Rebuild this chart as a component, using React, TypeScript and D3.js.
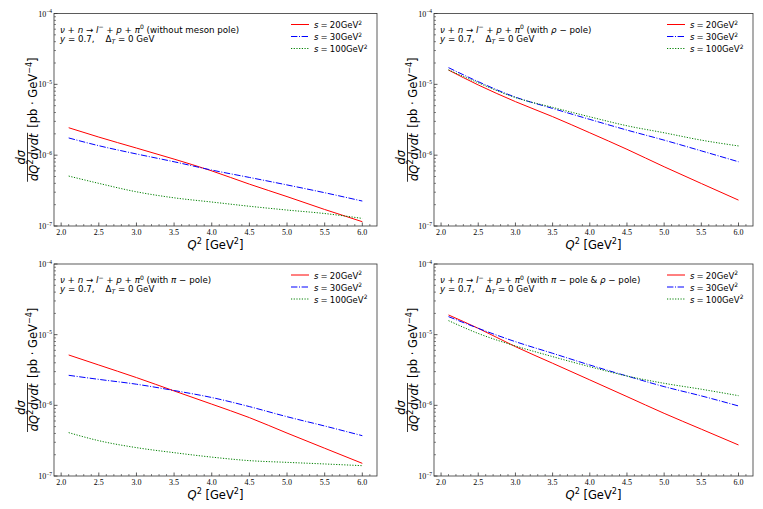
import React from 'react';
import * as d3 from 'd3';

// ---------- data ----------
const Q2 = [2.1, 2.5, 3.0, 3.5, 4.0, 4.5, 5.0, 5.5, 6.0];
const S_VALUES = ['20', '30', '100'];

// panel 1: without meson pole
const NOPOLE_S20 = [2.44e-6, 1.8e-6, 1.26e-6, 8.8e-7, 6.0e-7, 3.9e-7, 2.6e-7, 1.71e-7, 1.15e-7];
const NOPOLE_S30 = [1.75e-6, 1.36e-6, 1.04e-6, 8.07e-7, 6.16e-7, 4.85e-7, 3.8e-7, 2.95e-7, 2.25e-7];
const NOPOLE_S100 = [5.07e-7, 4.0e-7, 3.04e-7, 2.5e-7, 2.18e-7, 1.9e-7, 1.68e-7, 1.5e-7, 1.28e-7];

// panel 2: with rho pole
const RHO_S20 = [1.59e-5, 9.8e-6, 5.7e-6, 3.5e-6, 2.07e-6, 1.21e-6, 6.86e-7, 3.98e-7, 2.32e-7];
const RHO_S30 = [1.72e-5, 1.09e-5, 6.6e-6, 4.57e-6, 3.2e-6, 2.26e-6, 1.63e-6, 1.15e-6, 8.07e-7];
const RHO_S100 = [1.6e-5, 1.05e-5, 6.5e-6, 4.73e-6, 3.48e-6, 2.6e-6, 2.07e-6, 1.63e-6, 1.35e-6];

// panel 3: with pi pole
const PI_S20 = [5.16e-6, 3.72e-6, 2.47e-6, 1.6e-6, 1.04e-6, 6.7e-7, 4.05e-7, 2.47e-7, 1.51e-7];
const PI_S30 = [2.66e-6, 2.33e-6, 1.99e-6, 1.62e-6, 1.29e-6, 9.6e-7, 6.9e-7, 5.1e-7, 3.72e-7];
const PI_S100 = [4.11e-7, 3.16e-7, 2.52e-7, 2.14e-7, 1.85e-7, 1.65e-7, 1.56e-7, 1.48e-7, 1.4e-7];

// panel 4: with pi pole & rho pole
const PIRHO_S20 = [1.9e-5, 1.23e-5, 6.77e-6, 3.94e-6, 2.29e-6, 1.33e-6, 7.7e-7, 4.6e-7, 2.75e-7];
const PIRHO_S30 = [1.8e-5, 1.23e-5, 7.96e-6, 5.45e-6, 3.72e-6, 2.6e-6, 1.84e-6, 1.36e-6, 9.8e-7];
const PIRHO_S100 = [1.58e-5, 1.04e-5, 6.92e-6, 4.89e-6, 3.52e-6, 2.6e-6, 2.05e-6, 1.69e-6, 1.37e-6];

const X_TICKS = [2.0, 2.5, 3.0, 3.5, 4.0, 4.5, 5.0, 5.5, 6.0];
const Y_TICKS = [1e-4, 1e-5, 1e-6, 1e-7];
const Y_TICK_EXP = ['−4', '−5', '−6', '−7'];

// ---------- styling ----------
const COLORS = ['#ff0000', '#0000ff', '#008000'];
const DASHES = [undefined, '6.4,1.6,1,1.6', '1.2,1.5'];
const SANS = 'DejaVu Sans, sans-serif';
const SERIF = 'Liberation Serif, Times New Roman, serif';

type Part = { t: string; i?: boolean; sup?: boolean; sub?: boolean };

function Rich({ x, y, parts, size, anchor = 'start', family = SANS }: any) {
  let offset = 0;
  const spans = parts.map((p: Part, k: number) => {
    const target = p.sup ? -0.4 * size : p.sub ? 0.25 * size : 0;
    const dy = target - offset;
    offset = target;
    return (
      <tspan
        key={k}
        dy={dy}
        fontSize={p.sup || p.sub ? size * 0.7 : size}
        fontStyle={p.i ? 'italic' : 'normal'}
      >
        {p.t}
      </tspan>
    );
  });
  return (
    <text x={x} y={y} fontSize={size} textAnchor={anchor} fontFamily={family} fill="#000" style={{ whiteSpace: 'pre' }}>
      {spans}
    </text>
  );
}

const REACTION: Part[] = [
  { t: 'ν', i: true }, { t: ' + ' }, { t: 'n', i: true }, { t: ' → ' }, { t: 'l', i: true },
  { t: '−', sup: true }, { t: ' + ' }, { t: 'p', i: true }, { t: ' + ' }, { t: 'π', i: true }, { t: '0', sup: true },
];
const TITLES: Part[][] = [
  [{ t: ' (without meson pole)' }],
  [{ t: ' (with ' }, { t: 'ρ', i: true }, { t: ' − pole)' }],
  [{ t: ' (with ' }, { t: 'π', i: true }, { t: ' − pole)' }],
  [{ t: ' (with ' }, { t: 'π', i: true }, { t: ' − pole & ' }, { t: 'ρ', i: true }, { t: ' − pole)' }],
];
const LINE2: Part[] = [
  { t: 'y', i: true }, { t: ' = 0.7,    Δ' }, { t: 'T', i: true, sub: true }, { t: ' = 0 GeV' },
];

function Panel({ left, top, width, height, series, title }: any) {
  const x = d3.scaleLinear().domain([1.905, 6.195]).range([left, left + width]);
  const y = d3.scaleLog().domain([1e-7, 1e-4]).range([top + height, top]);
  const line = d3
    .line<[number, number]>()
    .x((d) => x(d[0]))
    .y((d) => y(d[1]))
    .curve(d3.curveMonotoneX);
  const bottom = top + height;

  const minorY: number[] = [];
  for (let e = -7; e < -4; e++) for (let k = 2; k < 10; k++) minorY.push(k * Math.pow(10, e));
  const minorX = d3.range(19, 62).map((v) => v / 10).filter((v) => v > 1.905 && v < 6.195 && Math.abs(v * 2 - Math.round(v * 2)) > 1e-6);

  const cy = top + height / 2 + 3;
  const yl = left - 17;
  return (
    <g>
      <rect x={left} y={top} width={width} height={height} fill="none" stroke="#333" strokeWidth={0.8} />
      {X_TICKS.map((t) => (
        <g key={'xt' + t}>
          <line x1={x(t)} x2={x(t)} y1={bottom} y2={bottom - 3.5} stroke="#333" strokeWidth={0.8} />
          <text x={x(t)} y={bottom + 8.5} fontSize={8} fontFamily={SERIF} textAnchor="middle">{t.toFixed(1)}</text>
        </g>
      ))}
      {minorX.map((t) => (
        <line key={'xm' + t} x1={x(t)} x2={x(t)} y1={bottom} y2={bottom - 2} stroke="#333" strokeWidth={0.6} />
      ))}
      {Y_TICKS.map((t, i) => (
        <g key={'yt' + i}>
          <line x1={left} x2={left + 3.5} y1={y(t)} y2={y(t)} stroke="#333" strokeWidth={0.8} />
          <text x={left - 2} y={y(t) + 3} fontSize={8} fontFamily={SERIF} textAnchor="end">
            10<tspan dy={-3.5} fontSize={5.5}>{Y_TICK_EXP[i]}</tspan>
          </text>
        </g>
      ))}
      {minorY.map((t, i) => (
        <line key={'ym' + i} x1={left} x2={left + 2} y1={y(t)} y2={y(t)} stroke="#333" strokeWidth={0.6} />
      ))}
      {series.map((vals: number[], i: number) => (
        <path
          key={'s' + i}
          d={line(Q2.map((q, j) => [q, vals[j]] as [number, number])) || ''}
          fill="none"
          stroke={COLORS[i]}
          strokeWidth={1}
          strokeDasharray={DASHES[i]}
        />
      ))}
      <Rich x={left + 6} y={top + 19} size={8.7} parts={[...REACTION, ...title]} />
      <Rich x={left + 6} y={top + 28} size={8.7} parts={LINE2} />
      {S_VALUES.map((s, i) => (
        <g key={'lg' + i}>
          <line
            x1={left + width - 86}
            x2={left + width - 68}
            y1={top + 11 + i * 12}
            y2={top + 11 + i * 12}
            stroke={COLORS[i]}
            strokeWidth={1}
            strokeDasharray={DASHES[i]}
          />
          <Rich
            x={left + width - 63}
            y={top + 14.5 + i * 12}
            size={8.5}
            parts={[{ t: 's', i: true }, { t: '\u2005=\u2005' + s + 'GeV' }, { t: '2', sup: true }]}
          />
        </g>
      ))}
      <Rich
        x={left + width / 2}
        y={bottom + 22.5}
        size={11.5}
        anchor="middle"
        parts={[{ t: 'Q', i: true }, { t: '2', sup: true }, { t: ' [GeV' }, { t: '2', sup: true }, { t: ']' }]}
      />
      <g transform={`translate(${yl},${cy}) rotate(-90)`}>
        <text x={-34.5} y={-12} fontSize={11.5} fontFamily={SANS} fontStyle="italic" textAnchor="middle">dσ</text>
        <line x1={-59} x2={-10} y1={-9.5} y2={-9.5} stroke="#000" strokeWidth={0.8} />
        <Rich
          x={-34.5}
          y={1}
          size={11.5}
          anchor="middle"
          parts={[{ t: 'dQ', i: true }, { t: '2', sup: true }, { t: 'dydt', i: true }]}
        />
        <Rich
          x={-5}
          y={0}
          size={11.5}
          parts={[{ t: '[pb · GeV' }, { t: '−4', sup: true }, { t: ']' }]}
        />
      </g>
    </g>
  );
}

export default function App() {
  const panels = [
    { left: 54, top: 13.5, width: 323, height: 212.5, series: [NOPOLE_S20, NOPOLE_S30, NOPOLE_S100], title: TITLES[0] },
    { left: 434, top: 13.5, width: 319, height: 212.5, series: [RHO_S20, RHO_S30, RHO_S100], title: TITLES[1] },
    { left: 54, top: 264, width: 323, height: 212, series: [PI_S20, PI_S30, PI_S100], title: TITLES[2] },
    { left: 434, top: 264, width: 319, height: 212, series: [PIRHO_S20, PIRHO_S30, PIRHO_S100], title: TITLES[3] },
  ];
  return (
    <svg
      width={763}
      height={509}
      style={{ position: 'absolute', left: 0, top: 0, background: '#fff' }}
      xmlns="http://www.w3.org/2000/svg"
    >
      <rect x={0} y={0} width={763} height={509} fill="#fff" />
      {panels.map((p, i) => (
        <Panel key={i} {...p} />
      ))}
    </svg>
  );
}
